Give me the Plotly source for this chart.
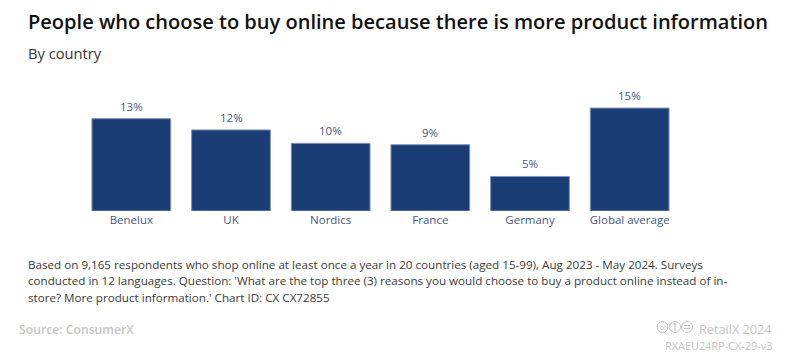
import plotly.graph_objects as go

categories = ["Benelux", "UK", "Nordics", "France", "Germany", "Global average"]
values = [13.1, 11.5, 9.6, 9.4, 4.9, 14.6]
labels = ["13%", "12%", "10%", "9%", "5%", "15%"]
W, H = 794, 359
FONT = "Open Sans"
BAR = "#1b3d76"
LABEL = "#44587f"
GREY = "#c4c4c4"

fig = go.Figure(go.Bar(
    x=categories, y=values, marker=dict(color=BAR, line=dict(color="#7f93b5", width=1)),
    width=0.79, hoverinfo="skip",
))

for c, v, t in zip(categories, values, labels):
    fig.add_annotation(x=c, y=v, text=t, showarrow=False, yanchor="bottom", yshift=3,
                       font=dict(family=FONT, size=11.5, color=LABEL))

def px_note(x, y, text, size, color, anchor="left", weight=None):
    font = dict(family=FONT, size=size, color=color)
    if weight:
        font["weight"] = weight
    fig.add_annotation(x=x / W, y=1 - y / H, xref="paper", yref="paper", text=text, showarrow=False,
                       xanchor=anchor, yanchor="middle", align=anchor, font=font)

def px_shape(kind, x0, y0, x1, y1):
    fig.add_shape(type=kind, xref="paper", yref="paper", x0=x0 / W, x1=x1 / W,
                  y0=1 - y0 / H, y1=1 - y1 / H, line=dict(color=GREY, width=1))

px_note(26, 21, "People who choose to buy online because there is more product information", 20.05, "#111111", weight=600)
px_note(26, 53, "By country", 14.7, "#333333")
px_note(26, 264, "Based on 9,165 respondents who shop online at least once a year in 20 countries (aged 15-99), Aug 2023 - May 2024. Surveys", 11.65, "#3a3a3a")
px_note(26, 280.5, "conducted in 12 languages. Question: 'What are the top three (3) reasons you would choose to buy a product online instead of in-", 11.65, "#3a3a3a")
px_note(26, 297, "store? More product information.' Chart ID: CX CX72855", 11.65, "#3a3a3a")
px_note(17, 329, "Source: ConsumerX", 12.2, GREY, weight=600)
px_note(774, 329, "RetailX 2024", 12.7, GREY, anchor="right")
px_note(774, 345, "RXAEU24RP-CX-29-v3", 10.9, GREY, anchor="right")

# Creative Commons badges
for cx in (662.5, 675, 687):
    px_shape("circle", cx - 5.5, 321.5, cx + 5.5, 332.5)
px_note(662.5, 327, "cc", 6.5, GREY, anchor="center")
px_shape("circle", 674, 323, 676, 325)
px_shape("line", 675, 325, 675, 331)
px_shape("line", 684, 325.5, 690, 325.5)
px_shape("line", 684, 328.5, 690, 328.5)

fig.update_layout(
    width=W, height=H, margin=dict(l=0, r=0, t=0, b=0), showlegend=False,
    paper_bgcolor="white", plot_bgcolor="white",
    xaxis=dict(domain=[81.5 / W, 679.5 / W], showgrid=False, showline=False, ticks="",
               tickfont=dict(family=FONT, size=11.5, color=LABEL), ticklabelstandoff=0),
    yaxis=dict(domain=[1 - 211 / H, 1 - 85 / H], range=[0, 126 / 7.05], visible=False),
)
fig.write_html("out.html", config={"displayModeBar": False},
               post_script="document.body.style.margin='0';document.body.style.overflow='hidden';")
